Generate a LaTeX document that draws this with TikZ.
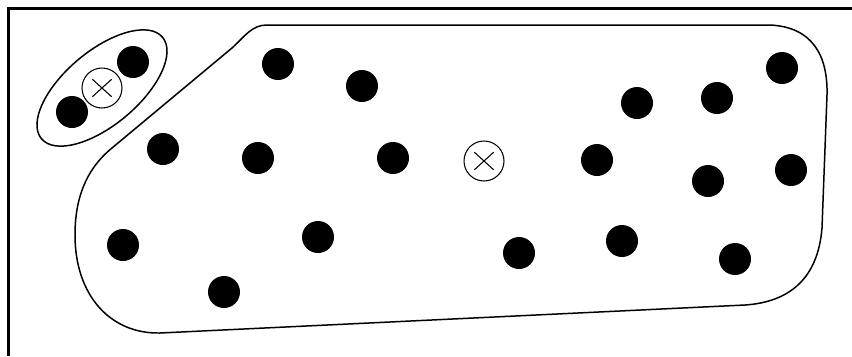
\documentclass[tikz,border=0pt]{standalone}
\usetikzlibrary{positioning,shapes.geometric}

\begin{document}
\begin{tikzpicture}[
  x=0.02cm, y=-0.02cm,
  dot/.style={circle, fill=black, minimum size=0.64cm, inner sep=0pt},
  xdot/.style={circle, draw, line width=0.6pt, minimum size=0.8cm, inner sep=0pt,
    path picture={
      \draw[line width=0.6pt] ([shift={(-5.5pt,-5pt)}]path picture bounding box.center) -- ([shift={(5.5pt,5pt)}]path picture bounding box.center);
      \draw[line width=0.6pt] ([shift={(-5.5pt,5pt)}]path picture bounding box.center) -- ([shift={(5.5pt,-5pt)}]path picture bounding box.center);
    }},
  group/.style={ellipse, draw, line width=0.85pt, inner sep=0pt},
  outline/.style={draw, line width=0.85pt},
  frame/.style={draw, line width=1.2pt}
]
\useasboundingbox (0,0) rectangle (852,356);
% Frame (left and top edges only)
\draw[frame] (8.5,356) -- (8.5,8.5) -- (852,8.5);
% Small cluster
\node[group, minimum width=3.16cm, minimum height=1.48cm, rotate=40] (grpA) at (102,88) {};
\node[dot] (p1) at (72,112) {};
\node[dot] (p2) at (133,62) {};
\node[xdot] (c1) at (102,88) {};
% Large cluster outline
\draw[outline] (267,25) -- (770,25)
  .. controls (812,27) and (828,55) .. (827,95)
  -- (822,228)
  .. controls (818,278) and (790,302) .. (745,305)
  -- (160,333)
  .. controls (110,334) and (75,295) .. (75,235)
  .. controls (75,200) and (85,170) .. (112,148)
  -- (232,48)
  .. controls (245,36) and (252,25) .. (267,25) -- cycle;
% Large cluster points
\node[dot] (p3) at (278,64) {};
\node[dot] (p4) at (362,86) {};
\node[dot] (p5) at (163,149) {};
\node[dot] (p6) at (258,158) {};
\node[dot] (p7) at (393,158) {};
\node[dot] (p8) at (597,160) {};
\node[dot] (p9) at (637,103) {};
\node[dot] (p10) at (717,98) {};
\node[dot] (p11) at (782,68) {};
\node[dot] (p12) at (708,181) {};
\node[dot] (p13) at (791,170) {};
\node[dot] (p14) at (123,245) {};
\node[dot] (p15) at (318,237) {};
\node[dot] (p16) at (224,292) {};
\node[dot] (p17) at (519,253) {};
\node[dot] (p18) at (622,241) {};
\node[dot] (p19) at (735,259) {};
\node[xdot] (c2) at (484,161) {};
\end{tikzpicture}
\end{document}
